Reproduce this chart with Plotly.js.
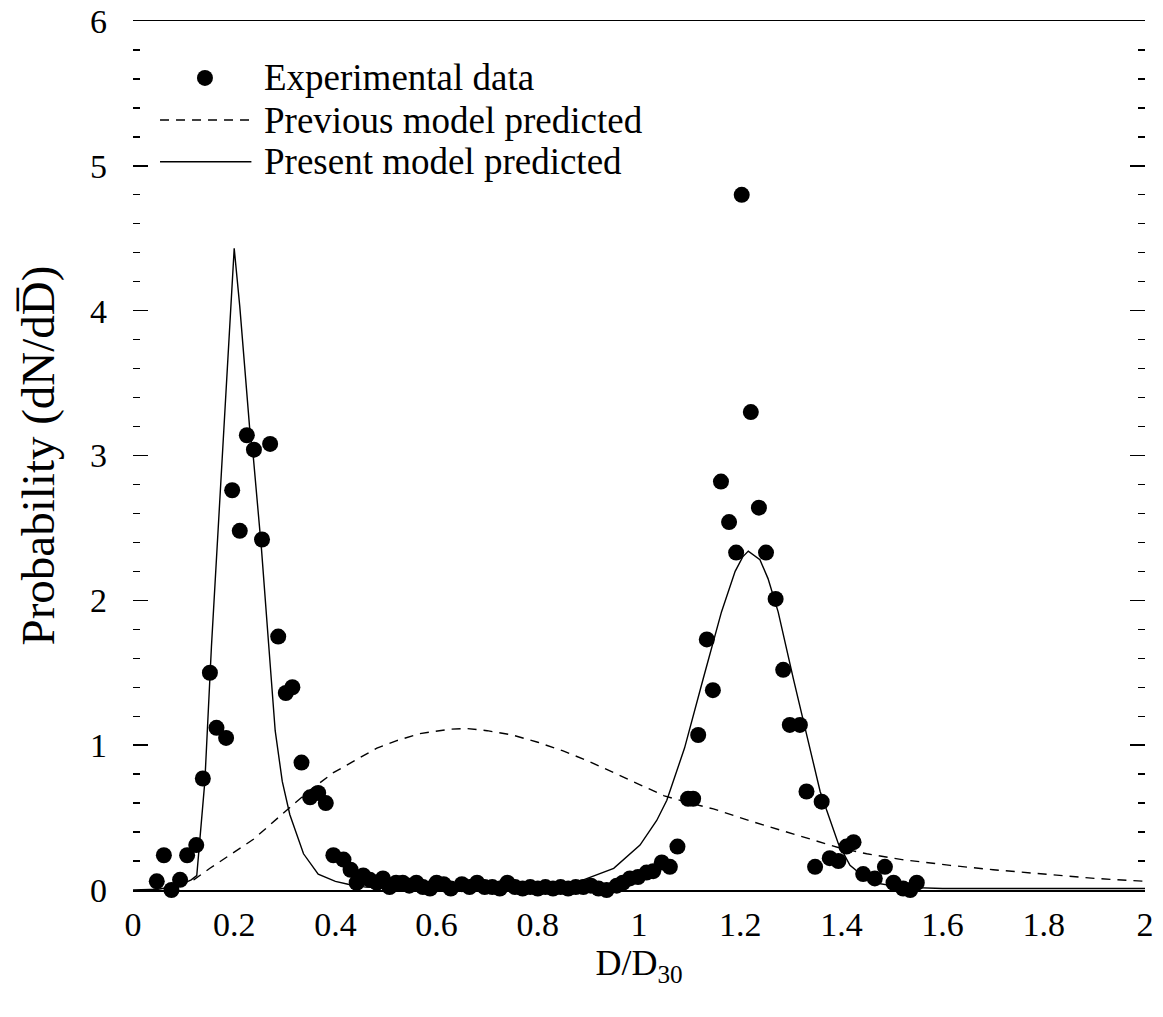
<!DOCTYPE html>
<html>
<head>
<meta charset="utf-8">
<script src="https://cdn.plot.ly/plotly-3.0.1.min.js"></script>
<style>html,body{margin:0;padding:0;background:#fff;}#chart{width:1163px;height:1017px;}</style>
</head>
<body>
<div id="chart"></div>
<script>
// Experimental data
const expX = [0.047,0.061,0.076,0.093,0.107,0.125,0.138,0.152,0.165,0.184,0.196,0.211,0.225,0.239,0.255,0.271,0.287,0.302,0.315,0.333,0.350,0.366,0.381,0.396,0.416,0.430,0.442,0.455,
  0.468,0.482,0.494,0.507,0.520,0.533,0.546,0.560,0.573,0.587,0.600,0.614,0.628,0.650,0.665,0.680,0.695,0.710,0.725,0.740,0.755,0.770,0.785,0.800,0.815,0.830,0.845,0.860,0.875,0.890,0.905,0.920,0.936,0.956,
  0.968,0.982,0.998,1.015,1.028,1.045,1.061,1.076,1.097,1.107,1.117,1.134,1.146,1.162,1.178,1.192,1.203,1.221,1.237,1.251,1.270,1.285,1.298,1.318,1.331,1.348,1.361,1.377,1.394,1.410,1.424,1.443,1.466,1.486,1.503,1.522,1.536,1.549];
const expY = [0.06,0.24,0.00,0.07,0.24,0.31,0.77,1.50,1.12,1.05,2.76,2.48,3.14,3.04,2.42,3.08,1.75,1.36,1.40,0.88,0.64,0.67,0.60,0.24,0.21,0.14,0.05,0.10,
  0.07,0.05,0.08,0.02,0.05,0.05,0.03,0.05,0.02,0.01,0.05,0.04,0.01,0.04,0.02,0.05,0.02,0.02,0.01,0.05,0.02,0.01,0.02,0.01,0.02,0.01,0.02,0.01,0.02,0.02,0.03,0.01,0.00,0.03,
  0.05,0.08,0.09,0.12,0.13,0.19,0.16,0.30,0.63,0.63,1.07,1.73,1.38,2.82,2.54,2.33,4.80,3.30,2.64,2.33,2.01,1.52,1.14,1.14,0.68,0.16,0.61,0.22,0.20,0.30,0.33,0.11,0.08,0.16,0.05,0.01,0.00,0.05];

// Previous model predicted (dashed)
const prevX = [0.09,0.12,0.152,0.20,0.238,0.31,0.35,0.396,0.44,0.482,0.52,0.567,0.626,0.66,0.70,0.75,0.80,0.85,0.90,0.95,1.00,1.05,1.10,1.147,1.226,1.285,1.34,1.397,1.45,1.52,1.615,1.70,1.812,1.90,2.00];
const prevY = [0.03,0.07,0.15,0.26,0.35,0.57,0.69,0.81,0.90,0.98,1.03,1.08,1.11,1.115,1.10,1.07,1.02,0.96,0.89,0.81,0.73,0.65,0.60,0.56,0.47,0.41,0.35,0.29,0.25,0.21,0.17,0.14,0.105,0.08,0.06];

// Present model predicted (solid)
const presX = [0,0.05,0.09,0.115,0.126,0.132,0.142,0.155,0.170,0.185,0.200,0.211,0.221,0.231,0.238,0.254,0.268,0.281,0.295,0.310,0.337,0.366,0.400,0.425,0.460,0.550,0.750,0.850,0.890,0.950,1.002,1.035,1.055,1.090,1.127,1.163,1.190,1.205,1.216,1.239,1.255,1.275,1.305,1.331,1.358,1.394,1.417,1.457,1.516,1.600,2.000];
const presY = [0,0.005,0.03,0.07,0.10,0.35,0.75,1.68,2.60,3.50,4.43,4.03,3.60,3.17,2.98,2.35,1.70,1.10,0.75,0.52,0.25,0.11,0.06,0.04,0.02,0.01,0.01,0.03,0.07,0.15,0.31,0.48,0.62,0.98,1.46,1.92,2.20,2.30,2.34,2.28,2.15,1.92,1.46,1.07,0.68,0.32,0.17,0.055,0.02,0.01,0.01];

const xTickVals = [0,0.2,0.4,0.6,0.8,1,1.2,1.4,1.6,1.8,2];
const xTickText = ['0','0.2','0.4','0.6','0.8','1','1.2','1.4','1.6','1.8','2'];
const yTickVals = [0,1,2,3,4,5,6];
const yTickText = ['0','1','2','3','4','5','6'];

const legendLabels = ['Experimental data','Previous model predicted','Present model predicted'];

const FONT = 'Liberation Serif, Times New Roman, serif';

const traces = [
  {x: prevX, y: prevY, mode: 'lines', line: {color: '#000', width: 1.4, dash: '9px,7px'}, name: legendLabels[1], showlegend: false, cliponaxis: false},
  {x: presX, y: presY, mode: 'lines', line: {color: '#000', width: 1.4}, name: legendLabels[2], showlegend: false, cliponaxis: false},
  {x: expX, y: expY, mode: 'markers', marker: {color: '#000', size: 16}, name: legendLabels[0], showlegend: false, cliponaxis: false}
];

// manual legend (paper coordinates)
const legX0 = 0.0267, legX1 = 0.1170, legTextX = 0.1275;
const legY = [0.9345, 0.886, 0.838];

const layout = {
  width: 1163, height: 1017,
  margin: {l: 133, r: 18, t: 21, b: 127},
  paper_bgcolor: '#fff', plot_bgcolor: '#fff',
  font: {family: FONT, color: '#000'},
  showlegend: false,
  xaxis: {
    range: [0, 2], tickvals: xTickVals, ticktext: xTickText,
    showline: true, mirror: true, linecolor: '#000', linewidth: 1.5,
    ticks: '', showgrid: false, zeroline: false,
    tickfont: {family: FONT, size: 34, color: '#000'},
    ticklabelstandoff: 4,
    title: {text: 'D/D<sub>30</sub>', font: {family: FONT, size: 36, color: '#000'}, standoff: 2}
  },
  yaxis: {
    range: [0, 6], tickvals: yTickVals, ticktext: yTickText,
    showline: false, mirror: 'ticks',
    ticks: 'inside', ticklen: 15, tickwidth: 1.5, tickcolor: '#000',
    minor: {dtick: 0.2, ticks: 'inside', ticklen: 7, tickwidth: 1.3, tickcolor: '#000'},
    showgrid: false, zeroline: false,
    tickfont: {family: FONT, size: 34, color: '#000'},
    ticklabelstandoff: 25,
    title: {text: 'Probability (dN/dD\u0305)\u00a0\u00a0\u00a0\u00a0', font: {family: FONT, size: 47, color: '#000'}, standoff: 20}
  },
  shapes: [
    {type: 'circle', xref: 'paper', yref: 'paper', xsizemode: 'pixel', ysizemode: 'pixel',
     xanchor: 0.0711, yanchor: legY[0], x0: -8, x1: 8, y0: -8, y1: 8, fillcolor: '#000', line: {color: '#000', width: 0}},
    {type: 'line', xref: 'paper', yref: 'paper', x0: legX0, x1: legX1, y0: legY[1], y1: legY[1], line: {color: '#000', width: 1.4, dash: '9px,7px'}},
    {type: 'line', xref: 'paper', yref: 'paper', x0: legX0, x1: legX1, y0: legY[2], y1: legY[2], line: {color: '#000', width: 1.4}}
  ],
  annotations: legendLabels.map((t, i) => ({
    text: t, xref: 'paper', yref: 'paper', x: legTextX, y: legY[i],
    xanchor: 'left', yanchor: 'middle', showarrow: false,
    font: {family: FONT, size: 37, color: '#000'}
  }))
};

Plotly.newPlot('chart', traces, layout, {displayModeBar: false, staticPlot: true});
</script>
</body>
</html>
